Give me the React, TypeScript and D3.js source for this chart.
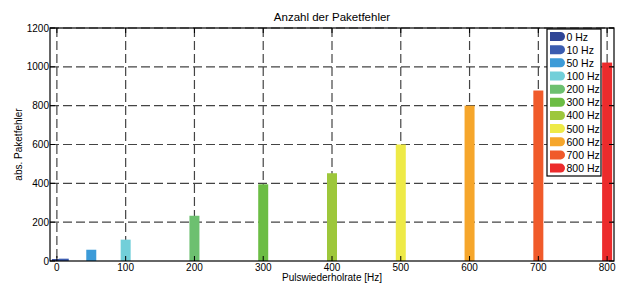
import * as d3 from "d3";

const rates = [0, 10, 50, 100, 200, 300, 400, 500, 600, 700, 800];
const errors = [10, 12, 58, 110, 233, 395, 452, 600, 800, 878, 1022];
const labels = ["0 Hz", "10 Hz", "50 Hz", "100 Hz", "200 Hz", "300 Hz", "400 Hz", "500 Hz", "600 Hz", "700 Hz", "800 Hz"];
const colors = ["#2f4596", "#3b5cb0", "#3c9bd8", "#72cfd9", "#6dc070", "#6cbd44", "#9dc73b", "#eeea47", "#f6a62b", "#f05a2a", "#ec2b2c"];
const xTicks = [0, 100, 200, 300, 400, 500, 600, 700, 800];
const yTicks = [0, 200, 400, 600, 800, 1000, 1200];

export default function App() {
  const width = 618;
  const height = 284;
  const left = 50;
  const right = 614;
  const top = 28;
  const bottom = 261;

  const x = d3.scaleLinear().domain([-10, 810]).range([left, right]);
  const y = d3.scaleLinear().domain([0, 1200]).range([bottom, top]);
  const barW = 10;
  const font = "'Liberation Sans', Arial, sans-serif";

  const legX = 547;
  const legY = 29;
  const legW = 54;
  const rowH = 13.16;
  const legH = 147;

  return (
    <svg width={width} height={height} style={{ position: "absolute", left: 0, top: 0 }} fontFamily={font}>
      <rect width={width} height={height} fill="#fff" />
      <text x={(left + right) / 2} y={21} textAnchor="middle" fontSize={11.5}>
        Anzahl der Paketfehler
      </text>

      {yTicks.filter((t) => t > 0).map((t) => (
        <line key={`gy-${t}`} x1={left} x2={right} y1={y(t)} y2={y(t)} stroke="#444" strokeDasharray="9,4" strokeWidth={1.2} />
      ))}
      {xTicks.map((t) => (
        <line key={`gx-${t}`} x1={x(t)} x2={x(t)} y1={top} y2={bottom} stroke="#444" strokeDasharray="9,4" strokeWidth={1.2} />
      ))}

      {rates.map((r, i) => (
        <rect
          key={`bar-${r}`}
          x={x(r) - barW / 2}
          y={y(errors[i])}
          width={barW}
          height={y(0) - y(errors[i])}
          fill={colors[i]}
        />
      ))}

      <rect x={left} y={top} width={right - left} height={bottom - top} fill="none" stroke="#000" strokeWidth={1.2} />

      {xTicks.map((t) => (
        <g key={`tx-${t}`}>
          <line x1={x(t)} x2={x(t)} y1={bottom} y2={bottom - 5} stroke="#000" />
          <line x1={x(t)} x2={x(t)} y1={top} y2={top + 5} stroke="#000" />
          <text x={x(t)} y={bottom + 10} textAnchor="middle" fontSize={10}>
            {t}
          </text>
        </g>
      ))}
      {yTicks.map((t) => (
        <g key={`ty-${t}`}>
          <line x1={left} x2={left + 5} y1={y(t)} y2={y(t)} stroke="#000" />
          <line x1={right} x2={right - 5} y1={y(t)} y2={y(t)} stroke="#000" />
          <text x={left - 1} y={y(t) + 3.5} textAnchor="end" fontSize={10}>
            {t}
          </text>
        </g>
      ))}

      <text x={(left + right) / 2} y={281} textAnchor="middle" fontSize={10}>
        Pulswiederholrate [Hz]
      </text>
      <text transform={`translate(22,${(top + bottom) / 2}) rotate(-90)`} textAnchor="middle" fontSize={10}>
        abs. Paketfehler
      </text>

      <g>
        <rect x={legX} y={legY} width={legW} height={legH} fill="#fff" stroke="#000" strokeWidth={1.2} />
        {labels.map((l, i) => {
          const cy = legY + 7.5 + i * rowH;
          return (
            <g key={`leg-${l}`}>
              <path d={`M${legX + 3},${cy - 4.5} h10.5 a4.5,4.5 0 0 1 0,9 h-10.5 z`} fill={colors[i]} />
              <text x={legX + 19.5} y={cy + 4} fontSize={10.5}>
                {l}
              </text>
            </g>
          );
        })}
      </g>
    </svg>
  );
}
